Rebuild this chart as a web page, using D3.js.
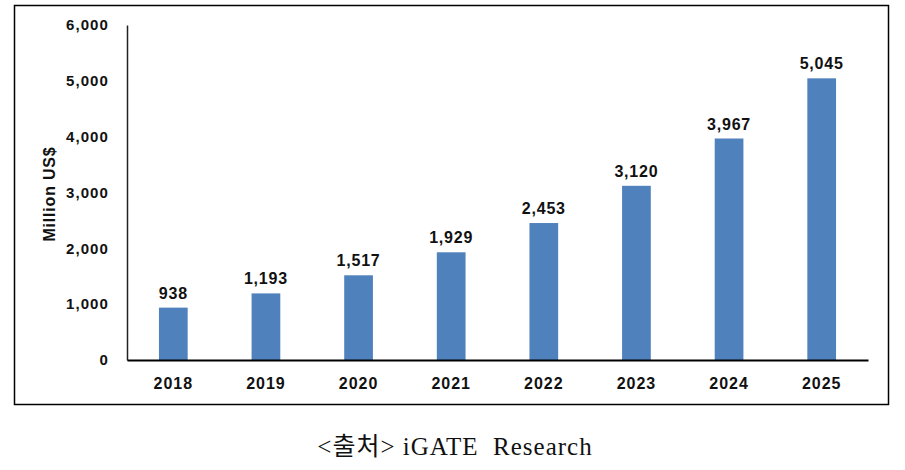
<!DOCTYPE html>
<html><head><meta charset="utf-8">
<script src="https://cdn.jsdelivr.net/npm/d3@7"></script>
<style>body{margin:0;background:#fff}</style>
</head><body>
<svg id="c" width="905" height="470"></svg>
<script>
const years = ["2018","2019","2020","2021","2022","2023","2024","2025"];
const values = [938,1193,1517,1929,2453,3120,3967,5045];
const yTicks = [0,1000,2000,3000,4000,5000,6000];
const yLabel = "Million US$";
const caption = "<출처> iGATE  Research";

(function(){
const svg = d3.select("#c");
svg.append("rect").attr("x",14.5).attr("y",5.5).attr("width",874).attr("height",399)
  .attr("fill","none").attr("stroke","#000").attr("stroke-width",1.5);

const pLeft=127, pRight=868, pTop=25, pBottom=360;
const x = d3.scaleBand().domain(years).range([pLeft,pRight]).paddingInner(0.69).paddingOuter(0.345);
const y = d3.scaleLinear().domain([0,6000]).range([pBottom,pTop]);
const sans = "Liberation Sans, Arial, sans-serif";

svg.selectAll("rect.bar").data(values).enter().append("rect").attr("class","bar")
  .attr("x",(d,i)=>x(years[i])).attr("width",x.bandwidth())
  .attr("y",d=>y(d)).attr("height",d=>pBottom-y(d)).attr("fill","#4f81bd");

const fmt = d3.format(",");
svg.selectAll("text.val").data(values).enter().append("text").attr("class","val")
  .attr("x",(d,i)=>x(years[i])+x.bandwidth()/2).attr("y",d=>y(d)-9)
  .attr("text-anchor","middle").attr("font-family",sans).attr("letter-spacing",0.8)
  .attr("font-weight","bold").attr("font-size",16).attr("fill","#111").text(d=>fmt(d));

const yAxis = d3.axisLeft(y).tickValues(yTicks).tickFormat(fmt).tickSize(0).tickPadding(18);
const gy = svg.append("g").attr("transform",`translate(${pLeft},0)`).call(yAxis);
gy.select(".domain").attr("stroke","#222").attr("stroke-width",1.5);
gy.selectAll("text").attr("font-family",sans).attr("font-weight","bold").attr("letter-spacing",1.1)
  .attr("font-size",15).attr("fill","#111");

const xAxis = d3.axisBottom(x).tickSize(0).tickPadding(18);
const gx = svg.append("g").attr("transform",`translate(0,${pBottom})`).call(xAxis);
gx.select(".domain").attr("stroke","#000").attr("stroke-width",2.2);
gx.selectAll("text").attr("font-family",sans).attr("font-weight","bold").attr("letter-spacing",1)
  .attr("font-size",16).attr("fill","#111");

svg.append("text").attr("transform",`translate(55,194) rotate(-90)`)
  .attr("text-anchor","middle").attr("font-family",sans).attr("letter-spacing",0.8)
  .attr("font-weight","bold").attr("font-size",16).attr("fill","#111").text(yLabel);

svg.append("text").attr("x",455).attr("y",455).attr("text-anchor","middle")
  .attr("font-family","Liberation Serif, 'Noto Sans CJK KR', serif").attr("xml:space","preserve")
  .style("white-space","pre").attr("letter-spacing",1)
  .attr("font-size",25).attr("fill","#111").text(caption);
})();
</script>
</body></html>
